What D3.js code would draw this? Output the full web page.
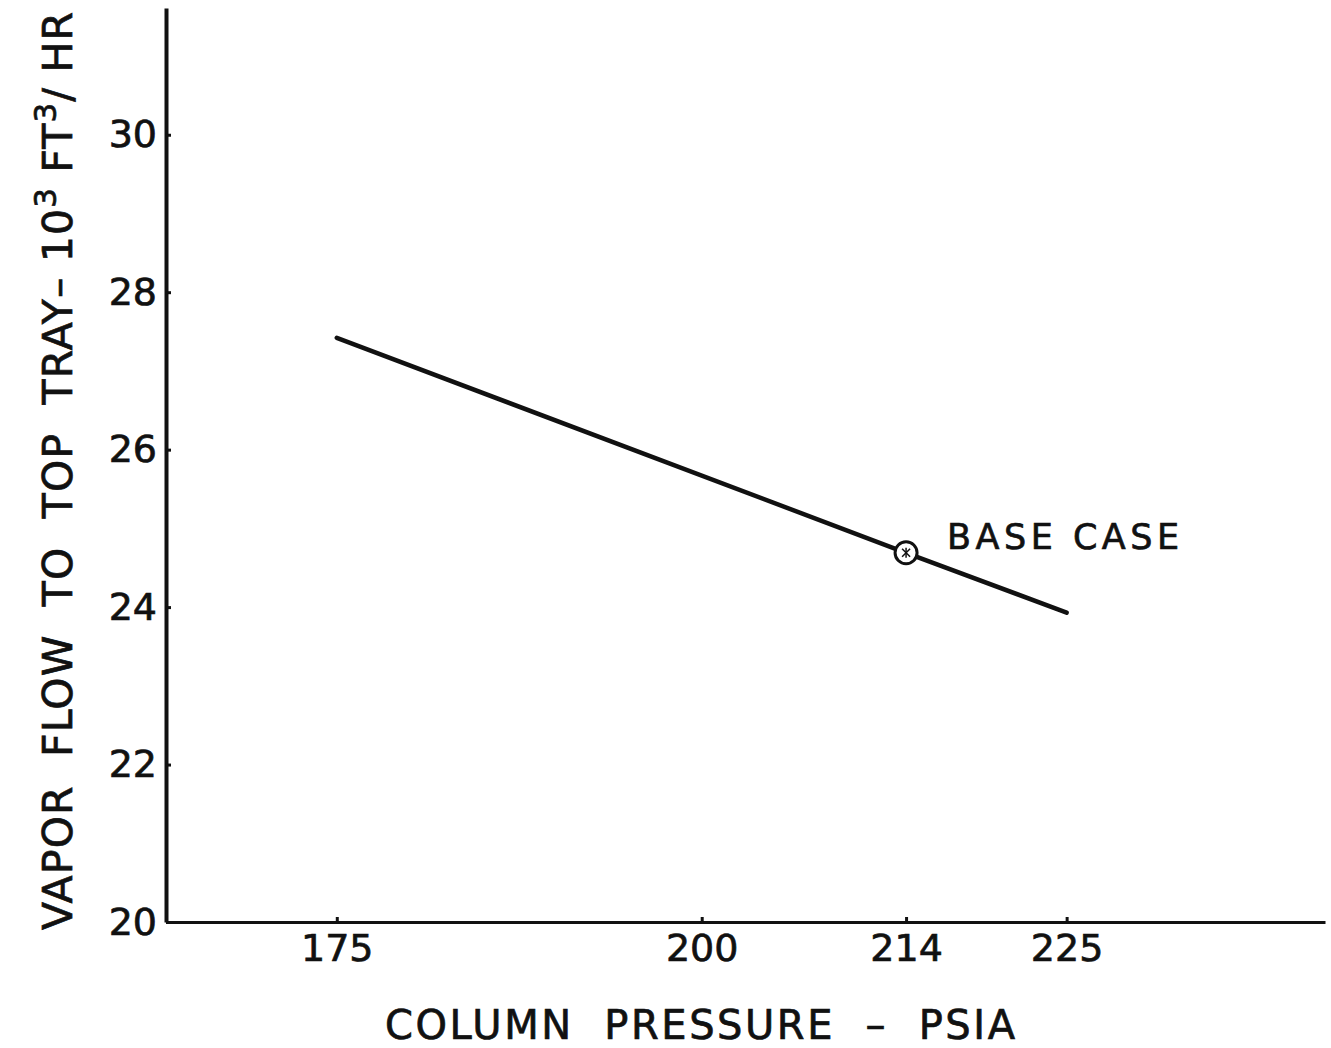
<!DOCTYPE html>
<html>
<head>
<meta charset="utf-8">
<script src="https://cdn.jsdelivr.net/npm/d3@7"></script>
<style>
  html, body { margin: 0; padding: 0; background: #fff; }
  svg { display: block; }
  text { font-family: "DejaVu Sans", sans-serif; fill: #111; stroke: #111; stroke-width: 0.7px; }
</style>
</head>
<body>
<svg id="chart" width="1331" height="1048"></svg>
<script>
// ---- data ----
const pressure = [175, 214, 225];          // PSIA
const vaporFlow = [27.42, 24.69, 23.93];   // 10^3 FT^3/HR
const baseCase = { pressure: 214, flow: 24.69, label: "BASE CASE" };
const xTicks = [175, 200, 214, 225];
const yTicks = [20, 22, 24, 26, 28, 30];
const xDomain = [163.3, 242.7];
const yDomain = [20, 31.61];

const svg = d3.select("#chart");
const ink = "#111";

const x = d3.scaleLinear().domain(xDomain).range([166, 1325]);
const y = d3.scaleLinear().domain(yDomain).range([922, 8]);

// x axis
const gx = svg.append("g").attr("transform", `translate(0,${y(20)})`)
  .call(d3.axisBottom(x).tickValues(xTicks).tickSizeInner(-5).tickSizeOuter(0).tickPadding(12).tickFormat(d3.format("d")));
gx.select(".domain").attr("stroke", ink).attr("stroke-width", 3);
gx.selectAll(".tick line").attr("stroke", ink).attr("stroke-width", 3);
gx.selectAll(".tick text").attr("font-size", 38).attr("fill", ink)
  .attr("font-family", "DejaVu Sans, sans-serif");

// y axis
const gy = svg.append("g").attr("transform", `translate(${x(xDomain[0])},0)`)
  .call(d3.axisLeft(y).tickValues(yTicks).tickSizeInner(-5).tickSizeOuter(0).tickPadding(9).tickFormat(d3.format("d")));
gy.select(".domain").attr("stroke", ink).attr("stroke-width", 4);
gy.selectAll(".tick line").attr("stroke", ink).attr("stroke-width", 3);
gy.selectAll(".tick text").attr("font-size", 38).attr("fill", ink)
  .attr("font-family", "DejaVu Sans, sans-serif");

// data line
const pts = pressure.map((p, i) => [p, vaporFlow[i]]);
svg.append("path")
  .datum(pts)
  .attr("d", d3.line().x(d => x(d[0])).y(d => y(d[1])))
  .attr("fill", "none").attr("stroke", ink).attr("stroke-width", 4.5)
  .attr("stroke-linecap", "round");

// base case marker
const bx = x(baseCase.pressure), by = y(baseCase.flow);
svg.append("circle").attr("cx", bx).attr("cy", by).attr("r", 11)
  .attr("fill", "#fff").attr("stroke", ink).attr("stroke-width", 3);
[[-4, -4, 4, 4], [-4, 4, 4, -4], [0, -5, 0, 5]].forEach(s => {
  svg.append("line").attr("x1", bx + s[0]).attr("y1", by + s[1]).attr("x2", bx + s[2]).attr("y2", by + s[3])
    .attr("stroke", ink).attr("stroke-width", 1.5);
});
svg.append("text").attr("x", bx + 41).attr("y", by - 4)
  .attr("font-size", 35).attr("textLength", 232).attr("lengthAdjust", "spacing")
  .text(baseCase.label);

// x axis title
svg.append("text").attr("x", 385).attr("y", 1039)
  .attr("font-size", 40).attr("textLength", 630).attr("lengthAdjust", "spacing")
  .style("white-space", "pre")
  .text("COLUMN  PRESSURE  –  PSIA");

// y axis title
const yt = svg.append("text")
  .attr("transform", "translate(72,930) rotate(-90)")
  .attr("font-size", 41).style("white-space", "pre");
yt.append("tspan").text("VAPOR  FLOW  TO  TOP  TRAY– 10");
yt.append("tspan").attr("dy", -16).attr("font-size", 31).text("3");
yt.append("tspan").attr("dy", 16).text(" FT");
yt.append("tspan").attr("dy", -16).attr("font-size", 31).text("3");
yt.append("tspan").attr("dy", 16).text("/ HR");
yt.attr("textLength", 918).attr("lengthAdjust", "spacing");
</script>
</body>
</html>
